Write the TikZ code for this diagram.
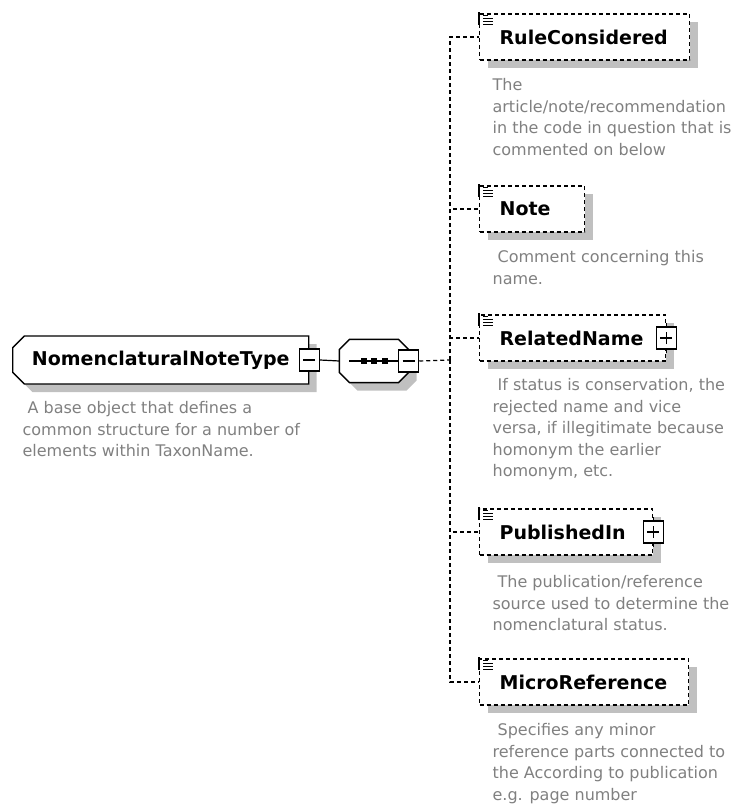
\documentclass[tikz,border=0pt]{standalone}
\usepackage{fontspec}
\setmainfont{DejaVu Sans}
\usetikzlibrary{shapes.misc,shadows}

\definecolor{descgray}{RGB}{128,128,128}
\definecolor{shadowgray}{RGB}{192,192,192}

\begin{document}
\begin{tikzpicture}
[
    x=1pt, y=-1pt,
    line width=1.2pt,
    boxshadow/.style={drop shadow={shadow xshift=8pt, shadow yshift=-8pt, opacity=1, fill=shadowgray}},
    label font/.style={font=\fontsize{19}{22}\selectfont\bfseries},
    complex/.style={draw, line width=1.4pt, fill=white, chamfered rectangle,
        chamfered rectangle corners={north west, south west},
        chamfered rectangle xsep=8pt, minimum width=296pt, minimum height=48pt,
        inner sep=0pt, boxshadow, label font, anchor=west},
    seqframe/.style={minimum width=68pt, minimum height=42pt, inner sep=0pt},
    octagon/.style={insert path={([xshift=10pt]#1.north west) -- ([xshift=-10pt]#1.north east)
        -- ([yshift=-10pt]#1.north east) -- ([yshift=10pt]#1.south east)
        -- ([xshift=-10pt]#1.south east) -- ([xshift=10pt]#1.south west)
        -- ([yshift=10pt]#1.south west) -- ([yshift=-10pt]#1.north west) -- cycle}},
    seqdot/.style={fill=black, minimum size=6pt, inner sep=0pt},
    element/.style={draw, dash pattern=on 4pt off 3pt, fill=white, boxshadow,
        minimum height=46pt, inner xsep=20pt, inner ysep=0pt, align=left,
        label font, anchor=west},
    conn/.style={dash pattern=on 4pt off 3pt},
    togglebox/.style={draw, solid, fill=white, line width=1.3pt,
        minimum width=20pt, minimum height=22pt, inner sep=0pt},
    collapse/.style={togglebox, path picture={
        \draw ([xshift=-6pt]path picture bounding box.center) -- ([xshift=6pt]path picture bounding box.center);}},
    expand/.style={togglebox, path picture={
        \draw ([xshift=-6pt]path picture bounding box.center) -- ([xshift=6pt]path picture bounding box.center);
        \draw ([yshift=-6pt]path picture bounding box.center) -- ([yshift=6pt]path picture bounding box.center);}},
    desc/.style={anchor=north west, inner sep=0pt, align=left, text=descgray,
        font=\fontsize{16}{21.5}\selectfont}
]
    \useasboundingbox (0,0) rectangle (735,805);

    \node [complex] (root) at (12,360) {NomenclaturalNoteType};
    \node [desc] (rootdesc) at (22,401)
        {\hspace*{5pt}A base object that defines a\\common structure for a number of\\elements within TaxonName.};

    \node [seqframe] (seqshade) at (382,369) {};
    \fill [shadowgray, octagon=seqshade];
    \node [seqframe] (seq) at (374,361) {};
    \filldraw [fill=white, line width=1.4pt, octagon=seq];
    \draw ([xshift=10pt]seq.west) -- ([xshift=-10pt]seq.east);
    \foreach \i/\dx in {1/-10,2/0,3/11}
        \node [seqdot] (dot\i) at ([xshift=\dx pt]seq.center) {};

    \node [element, text width=170pt] (rule) at (479,37) {RuleConsidered};
    \node [element, text width=65pt] (note) at (479,209) {Note};
    \node [element, text width=146pt] (rel) at (479,338) {RelatedName};
    \node [element, text width=133pt] (pub) at (479,532) {PublishedIn};
    \node [element, text width=169pt] (micro) at (479,682) {MicroReference};

    \node [desc] (ruledesc) at (492,78)
        {The\\article/note/recommendation\\in the code in question that is\\commented on below};
    \node [desc] (notedesc) at (492,250)
        {\hspace*{5pt}Comment concerning this\\name.};
    \node [desc] (reldesc) at (492,378)
        {\hspace*{5pt}If status is conservation, the\\rejected name and vice\\versa, if illegitimate because\\homonym the earlier\\homonym, etc.};
    \node [desc] (pubdesc) at (492,575)
        {\hspace*{5pt}The publication/reference\\source used to determine the\\nomenclatural status.};
    \node [desc] (microdesc) at (492,723)
        {\hspace*{5pt}Specifies any minor\\reference parts connected to\\the According to publication\\e.g. page number};

    \foreach \n in {rule,note,rel,pub,micro}
    {
        \draw ([yshift=1pt]\n.north west) -- ++(0,13);
        \draw [line width=0.9pt] ([shift={(4pt,-2.5pt)}]\n.north west) -- ++(5,0);
        \foreach \k in {5,8,11}
            \draw [line width=0.9pt] ([shift={(4pt,-\k pt)}]\n.north west) -- ++(10,0);
    }

    \coordinate (fork) at (450,360);
    \node [collapse] (rootfold) at (root.east) {};
    \node [collapse] (seqfold) at (seq.east) {};
    \draw (rootfold.east) -- (seq.west);
    \draw [conn] (seqfold.east) -- (fork);
    \foreach \n in {rule,note,rel,pub,micro}
        \draw [conn] (fork) |- (\n.west);

    \draw ([yshift=15pt]rel.east) -- ([yshift=-15pt]rel.east);
    \draw ([yshift=15pt]pub.east) -- ([yshift=-15pt]pub.east);
    \node [expand] (relfold) at (rel.east) {};
    \node [expand] (pubfold) at (pub.east) {};
\end{tikzpicture}
\end{document}
